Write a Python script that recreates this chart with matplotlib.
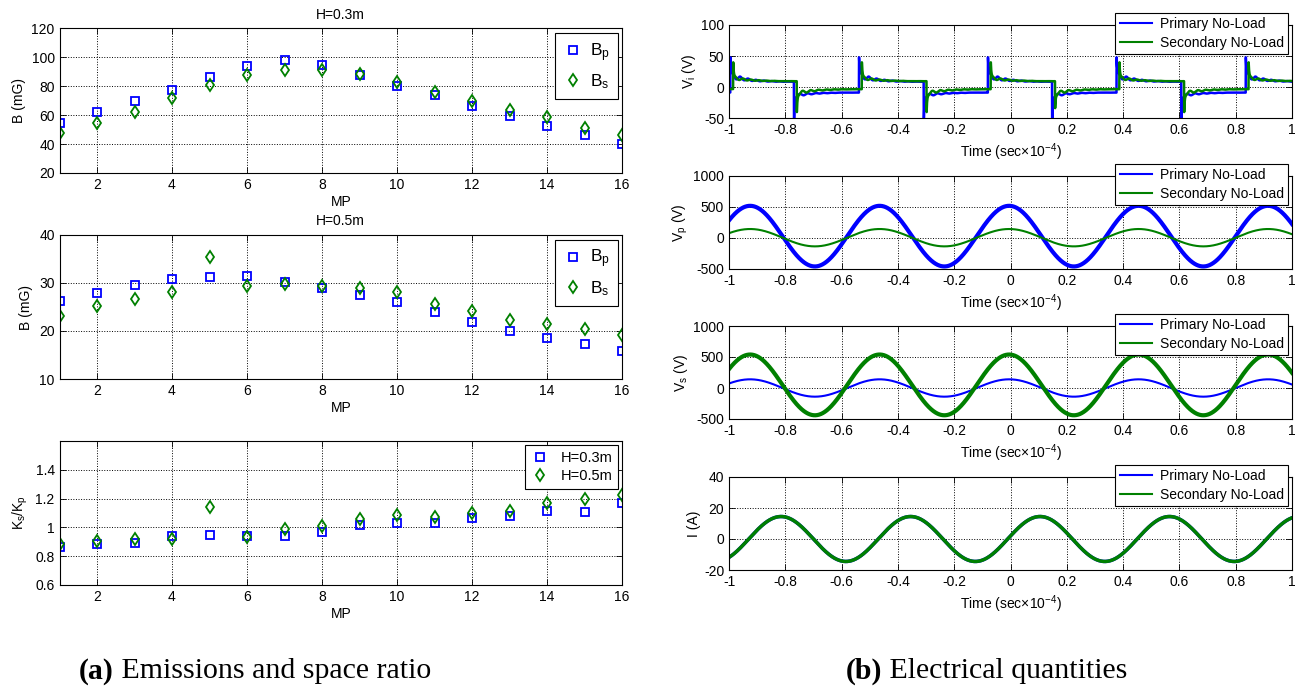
import numpy as np
import matplotlib
matplotlib.use('Agg')
import matplotlib.pyplot as plt
from matplotlib.lines import Line2D
from matplotlib.ticker import FuncFormatter

plt.rcParams['font.family'] = ['Liberation Sans', 'DejaVu Sans']
plt.rcParams['axes.unicode_minus'] = False
plt.rcParams['mathtext.default'] = 'regular'
plt.rcParams['font.size'] = 10

BLUE = (0, 0, 1)
GREEN = (0, 0.5, 0)

# ---- (a) emissions at measuring points ----
mp = np.arange(1, 17)
bp_03 = [54.5, 62, 70, 77.5, 86, 94, 98.4, 94.7, 87.4, 80, 74, 66.4, 59.5, 52.6, 46.4, 40.2]
bs_03 = [47.6, 54.5, 62.5, 72, 80.5, 88, 91.3, 91.3, 88.5, 83.2, 76.3, 70, 63.7, 58.4, 51, 46.3]
bp_05 = [26.3, 28, 29.5, 30.8, 31.3, 31.5, 30.2, 29, 27.6, 26, 24, 21.9, 20.1, 18.5, 17.3, 15.9]
bs_05 = [23.2, 25.3, 26.7, 28.1, 35.5, 29.4, 29.7, 29.4, 29, 28.1, 25.6, 24.2, 22.3, 21.4, 20.4, 19.2]
ratio_03 = [0.865, 0.888, 0.895, 0.941, 0.946, 0.939, 0.939, 0.969, 1.015, 1.033,
            1.033, 1.066, 1.08, 1.112, 1.107, 1.172]
ratio_05 = [0.888, 0.907, 0.918, 0.918, 1.142, 0.934, 0.992, 1.01, 1.056, 1.089,
            1.072, 1.103, 1.112, 1.172, 1.2, 1.222]

# ---- (b) electrical quantities ----
t = np.linspace(-1, 1, 4001)
period = 0.46
sine_peak = -0.005          # peak time of Vp / Vs
vp_amp = [489, 140]         # primary, secondary
vp_off = [30, 5]
vs_amp = [140, 490]
vs_off = [0, 50]
i_amp = [14.5, 14.5]
i_peak = 0.105

vi_rise = [-0.995, -0.538, -0.08, 0.377, 0.836]
vi_fall = [-0.769, -0.308, 0.148, 0.607]
vi_delay = [0.0, 0.01]
vi_high = [8.5, 9.5]
vi_high0 = [19, 15]
vi_low = [-8.5, -3]
vi_low0 = [-14, -10]
vi_spike_up = [48, 40]
vi_spike_dn = [-60, -40]


def vi_wave(k):
    edges = [(e + vi_delay[k], 1) for e in vi_rise] + [(e + vi_delay[k], 0) for e in vi_fall]
    edges = sorted(edges + [(-1.5, 0)])
    v = np.zeros_like(t)
    for (e, up), (e2, _) in zip(edges, edges[1:] + [(9, 0)]):
        m = (t >= e) & (t < e2)
        dt = t[m] - e
        if up:
            base, b0, sp = vi_high[k], vi_high0[k], vi_spike_up[k]
        else:
            base, b0, sp = vi_low[k], vi_low0[k], vi_spike_dn[k]
        v[m] = (base + (b0 - base) * np.exp(-dt / 0.06)
                + 0.45 * (b0 - base) * np.exp(-dt / 0.06) * np.sin(2 * np.pi * dt / 0.028)
                + (sp - b0) * np.exp(-dt / 0.002))
    return v


def sine(amp, off, peak):
    return off + amp * np.cos(2 * np.pi * (t - peak) / period)


fmt = FuncFormatter(lambda v, p: '%g' % (round(v, 6) + 0.0))
W, H = 1301, 692


def box(x0, x1, y0, y1):
    return [x0 / W, 1 - y1 / H, (x1 - x0) / W, (y1 - y0) / H]


def style(ax):
    ax.grid(True, linestyle=':', color='k', linewidth=0.7)
    ax.set_axisbelow(True)
    ax.tick_params(direction='in', top=True, right=True, length=4, width=0.6, labelsize=10)
    for s in ax.spines.values():
        s.set_linewidth(0.8)
    ax.xaxis.set_major_formatter(fmt)
    ax.yaxis.set_major_formatter(fmt)


fig = plt.figure(figsize=(13.01, 6.92), dpi=100)

left_boxes = [box(59.5, 622, 28.3, 173), box(59.5, 622, 235, 379), box(59.5, 622, 441, 585)]
left_data = [(bp_03, bs_03), (bp_05, bs_05), (ratio_03, ratio_05)]
left_ylim = [(20, 120), (10, 40), (0.6, 1.6)]
left_yticks = [np.arange(20, 121, 20), np.arange(10, 41, 10), [0.6, 0.8, 1.0, 1.2, 1.4]]
left_ylab = ['B (mG)', 'B (mG)', 'K$_s$/K$_p$']
left_titles = ['H=0.3m', 'H=0.5m', None]

for i in range(3):
    ax = fig.add_axes(left_boxes[i])
    y1, y2 = left_data[i]
    if i < 2:
        l1, l2 = 'B$_p$', 'B$_s$'
    else:
        l1, l2 = 'H=0.3m', 'H=0.5m'
    ax.plot(mp, y1, 's', mfc='none', mec=BLUE, ms=5.5, mew=1.3, label=l1)
    ax.plot(mp, y2, 'd', mfc='none', mec=GREEN, ms=6, mew=1.3, label=l2)
    ax.set_xlim(1, 16)
    ax.set_xticks(range(2, 17, 2))
    ax.set_ylim(*left_ylim[i])
    ax.set_yticks(left_yticks[i])
    style(ax)
    ax.set_xlabel('MP', fontsize=10, labelpad=2)
    ax.set_ylabel(left_ylab[i], fontsize=10)
    if left_titles[i]:
        ax.set_title(left_titles[i], fontsize=10, pad=7)
    if i < 2:
        leg = ax.legend(loc='upper right', bbox_to_anchor=(0.993, 0.965), borderaxespad=0,
                        fontsize=12.5, labelspacing=0.5, handletextpad=0.4, handlelength=1.2,
                        borderpad=0.45, fancybox=False, edgecolor='k', framealpha=1)
    else:
        leg = ax.legend(loc='upper right', bbox_to_anchor=(0.993, 0.972), borderaxespad=0,
                        fontsize=10.5, labelspacing=0.3, handletextpad=0.8, handlelength=1.2,
                        fancybox=False, edgecolor='k', framealpha=1)
    leg.get_frame().set_linewidth(0.8)

right_boxes = [box(729, 1292, 25, 118.3), box(729, 1292, 176, 269),
               box(729, 1292, 326, 419), box(729, 1292, 477, 570)]
right_series = [
    (vi_wave(0), vi_wave(1)),
    (sine(vp_amp[0], vp_off[0], sine_peak), sine(vp_amp[1], vp_off[1], sine_peak)),
    (sine(vs_amp[0], vs_off[0], sine_peak), sine(vs_amp[1], vs_off[1], sine_peak)),
    (sine(i_amp[0], 0, i_peak), sine(i_amp[1], 0, i_peak)),
]
right_lw = [(1.8, 1.8), (3.0, 1.5), (1.5, 3.0), (2.5, 2.5)]
right_ylim = [(-50, 100), (-500, 1000), (-500, 1000), (-20, 40)]
right_yticks = [[-50, 0, 50, 100], [-500, 0, 500, 1000], [-500, 0, 500, 1000], [-20, 0, 20, 40]]
right_ylab = ['V$_i$ (V)', 'V$_p$ (V)', 'V$_s$ (V)', 'I (A)']

for i in range(4):
    ax = fig.add_axes(right_boxes[i])
    a, b = right_series[i]
    ax.plot(t, a, color=BLUE, lw=right_lw[i][0])
    ax.plot(t, b, color=GREEN, lw=right_lw[i][1])
    ax.set_xlim(-1, 1)
    ax.set_xticks(np.round(np.arange(-1, 1.01, 0.2), 1))
    ax.set_ylim(*right_ylim[i])
    ax.set_yticks(right_yticks[i])
    style(ax)
    ax.set_xlabel('Time (sec×10$^{-4}$)', fontsize=10, labelpad=3)
    ax.set_ylabel(right_ylab[i], fontsize=10, labelpad=2)
    handles = [Line2D([], [], color=BLUE, lw=1.5), Line2D([], [], color=GREEN, lw=1.5)]
    leg = ax.legend(handles, ['Primary No-Load', 'Secondary No-Load'], loc='upper right',
                    bbox_to_anchor=(0.993, 1.13), borderaxespad=0, fontsize=10,
                    labelspacing=0.35, handlelength=2.3, handletextpad=0.6, borderpad=0.3,
                    fancybox=False, edgecolor='k', framealpha=1)
    leg.get_frame().set_linewidth(0.8)
    leg.set_zorder(5)

# captions
fig.canvas.draw()
for x0, tag, rest in [(79, '(a)', ' Emissions and space ratio'), (846, '(b)', ' Electrical quantities')]:
    tx = fig.text(x0 / W, 0.03, tag, family=['Liberation Serif'], fontweight='bold',
                  fontsize=21.5, va='center')
    fig.canvas.draw()
    bb = tx.get_window_extent()
    fig.text(bb.x1 / W, 0.03, rest, family=['Liberation Serif'], fontsize=21.5, va='center')

fig.savefig('out.png', dpi=100)
